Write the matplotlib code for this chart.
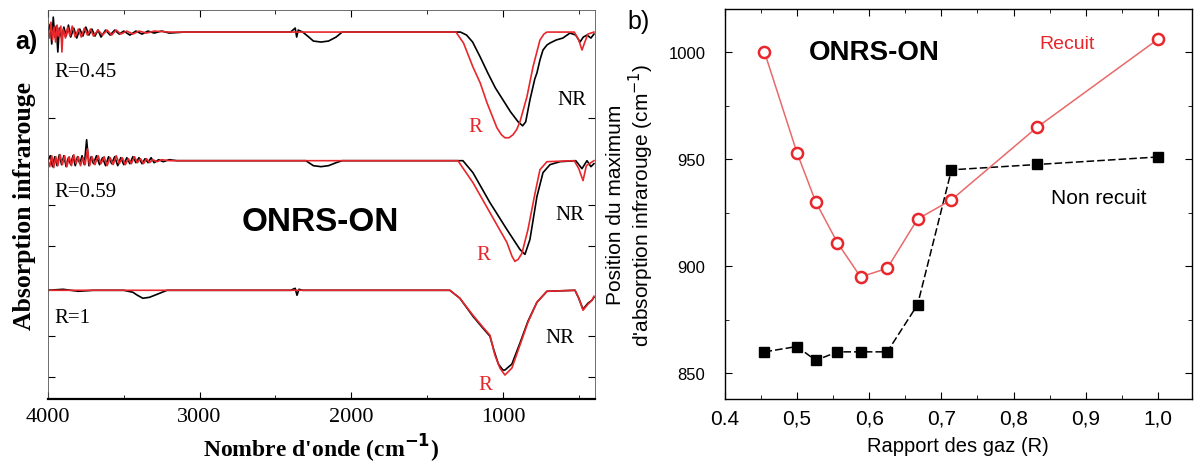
import numpy as np
import matplotlib.pyplot as plt
from matplotlib.ticker import MultipleLocator

# ---- panel a) : IR spectra (arbitrary units, 0 = baseline, negative = absorption dip)
wn_045_nr = [4000, 3985, 3975, 3965, 3955, 3945, 3935, 3925, 3910, 3895, 3880, 3865, 3850, 3830, 3810,
             3790, 3770, 3750, 3730, 3710, 3690, 3670, 3650, 3620, 3590, 3560, 3530, 3500, 3460, 3420,
             3380, 3340, 3300, 3250, 3200, 3100, 2400, 2370, 2360, 2350, 2320, 2280, 2250, 2200, 2150,
             2100, 2060, 1280, 1240, 1200, 1150, 1100, 1050, 1000, 950, 900, 870, 850, 822, 790, 776,
             756, 736, 710, 690, 650, 605, 558, 520, 492, 470, 446, 420, 400]
ab_045_nr = [0.0, 0.08, -0.12, 0.15, -0.05, 0.06, -0.20, 0.04, -0.06, 0.05, -0.04, 0.07, -0.05, 0.04, -0.06,
             0.03, -0.04, 0.05, -0.03, 0.03, -0.04, 0.02, -0.05, 0.02, -0.03, 0.02, -0.02, 0.01, -0.03, 0.01,
             -0.02, 0.01, -0.01, 0.01, -0.01, 0.0, 0.0, 0.04, -0.05, 0.02, 0.0, -0.05, -0.09, -0.10, -0.09,
             -0.05, 0.0, 0.0, -0.03, -0.10, -0.25, -0.41, -0.56, -0.68, -0.80, -0.90, -0.94, -0.90, -0.68,
             -0.47, -0.41, -0.28, -0.18, -0.13, -0.11, -0.08, -0.06, -0.01, -0.03, -0.10, -0.05, -0.03,
             -0.06, -0.02]

wn_045_r = [4000, 3990, 3980, 3970, 3960, 3950, 3940, 3930, 3915, 3908, 3900, 3885, 3870, 3855, 3840,
            3820, 3800, 3780, 3760, 3740, 3720, 3700, 3670, 3640, 3610, 3580, 3550, 3520, 3480, 3440,
            3400, 3350, 3300, 3200, 3050, 1310, 1260, 1198, 1150, 1105, 1040, 1010, 987, 960, 934, 910,
            888, 842, 802, 756, 730, 710, 530, 500, 479, 460, 440, 400]
ab_045_r = [0.0, -0.06, 0.10, -0.08, 0.05, -0.10, 0.07, -0.04, 0.06, -0.20, 0.03, -0.06, 0.05, -0.04, 0.06,
            -0.05, 0.03, -0.05, 0.04, -0.03, 0.03, -0.04, 0.02, -0.03, 0.02, -0.03, 0.02, -0.02, 0.01, -0.02,
            0.01, -0.01, 0.01, 0.0, 0.0, 0.0, -0.11, -0.35, -0.51, -0.71, -0.96, -1.03, -1.06, -1.06, -1.03,
            -0.98, -0.90, -0.65, -0.35, -0.08, -0.02, 0.0, 0.0, -0.08, -0.18, -0.10, -0.02, 0.0]

wn_059_nr = [4000, 3985, 3970, 3955, 3940, 3925, 3910, 3895, 3880, 3865, 3850, 3835, 3820, 3805, 3790,
             3775, 3760, 3745, 3730, 3715, 3700, 3680, 3660, 3640, 3620, 3600, 3580, 3560, 3540, 3520,
             3500, 3480, 3460, 3440, 3420, 3400, 3380, 3360, 3340, 3320, 3300, 3270, 3240, 3200, 3150,
             3100, 2300, 2250, 2200, 2150, 2100, 2060, 1264, 1198, 1086, 974, 888, 855, 822, 776, 736,
             690, 624, 520, 479, 446, 420, 400]
ab_059_nr = [0.0, 0.05, -0.06, 0.04, -0.05, 0.06, -0.04, 0.05, -0.06, 0.03, -0.04, 0.05, -0.05, 0.04, -0.03,
             0.05, -0.04, 0.21, -0.05, 0.04, -0.03, 0.05, -0.04, 0.03, -0.05, 0.04, -0.03, 0.04, -0.05, 0.03,
             -0.04, 0.03, -0.03, 0.04, -0.02, 0.03, -0.03, 0.02, -0.02, 0.03, -0.02, 0.01, -0.01, 0.01, 0.0,
             0.0, 0.0, -0.05, -0.06, -0.05, -0.02, 0.0, 0.0, -0.12, -0.42, -0.69, -0.89, -0.94, -0.79, -0.36,
             -0.12, -0.04, -0.01, 0.0, -0.08, 0.0, -0.06, -0.03]

wn_059_r = [4000, 3988, 3975, 3962, 3948, 3935, 3920, 3905, 3890, 3875, 3860, 3845, 3830, 3815, 3800,
            3785, 3770, 3755, 3740, 3725, 3710, 3690, 3670, 3650, 3630, 3610, 3590, 3570, 3550, 3530,
            3510, 3490, 3470, 3450, 3430, 3410, 3390, 3370, 3350, 3330, 3310, 3280, 3250, 3200, 3150,
            1297, 1198, 1086, 974, 940, 921, 900, 875, 835, 789, 756, 710, 530, 500, 472, 450, 420, 400]
ab_059_r = [0.0, -0.06, 0.05, -0.07, 0.04, -0.05, 0.06, -0.04, 0.05, -0.06, 0.04, -0.05, 0.06, -0.03, 0.04,
            -0.05, 0.03, -0.04, 0.12, -0.05, 0.04, -0.04, 0.05, -0.03, 0.04, -0.05, 0.03, -0.04, 0.05, -0.03,
            0.03, -0.04, 0.02, -0.03, 0.04, -0.02, 0.02, -0.03, 0.02, -0.02, 0.01, -0.01, 0.01, 0.0, 0.0,
            0.0, -0.22, -0.52, -0.82, -0.96, -1.01, -0.99, -0.93, -0.69, -0.33, -0.09, -0.01, 0.0, -0.08,
            -0.20, -0.05, -0.02, 0.0]

wn_1_nr = [4000, 3900, 3800, 3700, 3500, 3440, 3410, 3374, 3330, 3280, 3215, 3000, 2400, 2370, 2358, 2345,
           2320, 1350, 1284, 1198, 1132, 1086, 1060, 1030, 1000, 987, 941, 888, 835, 776, 710, 525, 500,
           472, 440, 413, 400]
ab_1_nr = [0.0, 0.01, -0.01, 0.0, 0.0, -0.02, -0.05, -0.08, -0.07, -0.04, 0.0, 0.0, 0.0, 0.02, -0.05, 0.01,
           0.0, 0.0, -0.08, -0.26, -0.38, -0.46, -0.60, -0.74, -0.80, -0.80, -0.74, -0.53, -0.31, -0.12,
           -0.01, 0.0, -0.08, -0.19, -0.13, -0.10, -0.07]

wn_1_r = [4000, 1350, 1284, 1198, 1132, 1086, 1053, 1020, 987, 941, 888, 835, 776, 710, 525, 500, 472,
          440, 413, 400]
ab_1_r = [0.0, 0.0, -0.08, -0.25, -0.37, -0.45, -0.65, -0.78, -0.85, -0.78, -0.55, -0.32, -0.12, -0.01,
          0.0, -0.08, -0.20, -0.14, -0.10, -0.06]

offsets = [3.68, 2.39, 1.09]
sample_labels = ['R=0.45', 'R=0.59', 'R=1']

# ---- panel b) : peak position vs gas ratio
ratio = [0.455, 0.5, 0.526, 0.556, 0.588, 0.625, 0.667, 0.714, 0.833, 1.0]
pos_recuit = [1000, 953, 930, 911, 895, 899, 922, 931, 965, 1006]
pos_non_recuit = [860, 862.5, 856, 860, 860, 860, 882, 945, 947.5, 951]
xtick_vals = [0.4, 0.5, 0.6, 0.7, 0.8, 0.9, 1.0]
xtick_labels = ['0.4', '0,5', '0,6', '0,7', '0,8', '0,9', '1,0']
ytick_vals = [850, 900, 950, 1000]

RED = '#e8262b'
serif = 'Liberation Serif'
sans = 'Liberation Sans'

fig = plt.figure(figsize=(11.96, 4.64), dpi=100)

# ================= a)
ax1 = fig.add_axes([0.0401, 0.138, 0.4574, 0.838])
pairs = [(wn_045_nr, ab_045_nr, wn_045_r, ab_045_r),
         (wn_059_nr, ab_059_nr, wn_059_r, ab_059_r),
         (wn_1_nr, ab_1_nr, wn_1_r, ab_1_r)]
for (wn_nr, a_nr, wn_r, a_r), off in zip(pairs, offsets):
    ax1.plot(wn_nr, np.array(a_nr) + off, color='black', lw=1.2)
    ax1.plot(wn_r, np.array(a_r) + off, color=RED, lw=1.2)

ax1.set_xlim(4000, 393)
ax1.set_ylim(0, 3.9)
ax1.set_xticks([4000, 3000, 2000, 1000])
ax1.xaxis.set_minor_locator(MultipleLocator(500))
ax1.set_yticks([0.22, 0.63, 1.53, 1.95, 2.82])
ax1.set_yticklabels([])
ax1.tick_params(direction='in', top=True, right=True, length=5, labelsize=16, pad=6)
ax1.tick_params(which='minor', direction='in', top=True, length=3)
for lab in ax1.get_xticklabels():
    lab.set_fontfamily(serif)
for side in ['left', 'top', 'right']:
    ax1.spines[side].set_linewidth(0.6)
    ax1.spines[side].set_color('#555555')
ax1.spines['bottom'].set_linewidth(1.6)

ax1.set_xlabel("Nombre d'onde (cm$^{\\mathbf{-1}}$)", family=serif, fontsize=17, fontweight='bold')
ax1.xaxis.set_label_coords(0.5, -0.085)
ax1.set_ylabel('Absorption infrarouge', family=serif, fontsize=18.5, fontweight='bold')
ax1.yaxis.set_label_coords(-0.022, 0.5)

label_y = [3.28, 2.08, 0.82]
for lab, yy in zip(sample_labels, label_y):
    ax1.text(3955, yy, lab, family=serif, fontsize=15, va='center', ha='left')
nr_pos = [(545, 3.0), (558, 1.85), (624, 0.62)]
r_pos = [(1185, 2.73), (1132, 1.45), (1119, 0.15)]
for (x, y) in nr_pos:
    ax1.text(x, y, 'NR', family=serif, fontsize=15, ha='center', va='center')
for (x, y) in r_pos:
    ax1.text(x, y, 'R', family=serif, fontsize=15, ha='center', va='center', color=RED)
ax1.text(0.497, 0.456, 'ONRS-ON', transform=ax1.transAxes, family=sans, fontsize=24,
         fontweight='bold', ha='center', va='center')
fig.text(0.013, 0.909, 'a)', family=sans, fontsize=18, fontweight='bold', va='center')

# ================= b)
ax2 = fig.add_axes([0.606, 0.138, 0.3906, 0.840])
ax2.plot(ratio, pos_non_recuit, color='black', lw=1.1, ls=(0, (5, 2)),
         marker='s', ms=7, mfc='black', mec='black')
ax2.plot(ratio, pos_recuit, color='#e86a6a', lw=1.1,
         marker='o', ms=8, mfc='white', mec=RED, mew=1.8)
ax2.set_xlim(0.4, 1.047)
ax2.set_ylim(838, 1020)
ax2.set_xticks(xtick_vals)
ax2.set_xticklabels(xtick_labels)
ax2.xaxis.set_minor_locator(MultipleLocator(0.05))
ax2.set_yticks(ytick_vals)
ax2.yaxis.set_minor_locator(MultipleLocator(25))
ax2.tick_params(direction='in', top=True, right=True, length=5, pad=8)
ax2.tick_params(which='minor', direction='in', top=True, right=True, length=3)
ax2.tick_params(axis='x', labelsize=15, pad=7)
ax2.tick_params(axis='y', labelsize=12, pad=14)
for lab in ax2.get_xticklabels() + ax2.get_yticklabels():
    lab.set_fontfamily(sans)
for side in ['left', 'bottom', 'top', 'right']:
    ax2.spines[side].set_linewidth(1.0)

ax2.set_xlabel('Rapport des gaz (R)', family=sans, fontsize=14.5)
ax2.xaxis.set_label_coords(0.5, -0.095)
ax2.set_ylabel("Position du maximum\nd'absorption infrarouge (cm$^{-1}$)", family=sans,
               fontsize=15, linespacing=1.05)
ax2.yaxis.set_label_coords(-0.148, 0.5)

ax2.text(0.607, 1000, 'ONRS-ON', family=sans, fontsize=20, fontweight='bold', ha='center', va='center')
ax2.text(0.874, 1004, 'Recuit', family=sans, fontsize=14, color=RED, ha='center', va='center')
ax2.text(0.918, 932, 'Non recuit', family=sans, fontsize=15, ha='center', va='center')
fig.text(0.525, 0.953, 'b)', family=sans, fontsize=18, va='center')

fig.savefig('out.png', dpi=100)
